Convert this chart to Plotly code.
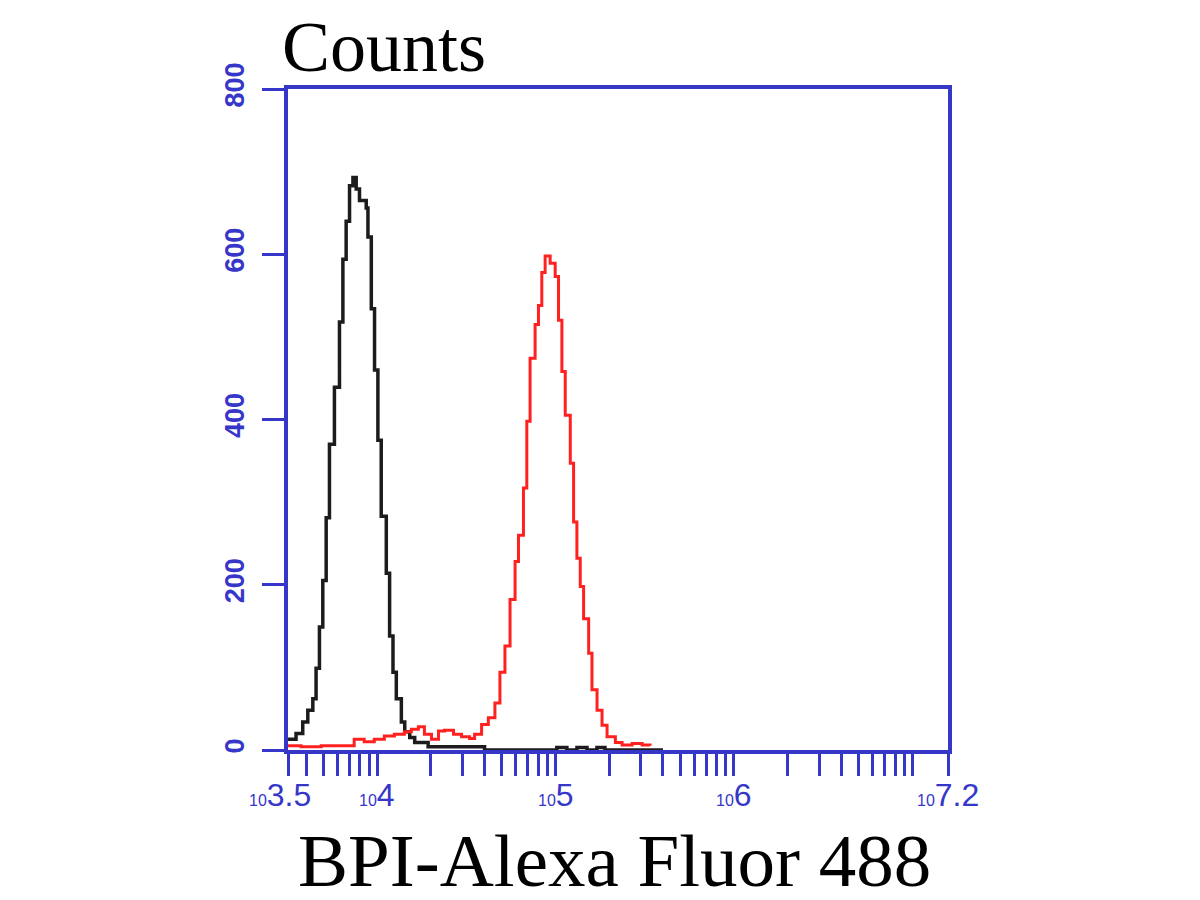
import plotly.graph_objects as go

# ---- data (fluorescence intensity, counts) ----
black_x = [3150, 3508, 3825, 4083, 4357, 4543, 4745, 4955, 5176, 5400, 5758, 6146,
           6423, 6700, 6998, 7312, 7627, 7957, 8681, 8876, 9268, 9664, 10092, 10535,
           11246, 11737, 12262, 12800, 13660, 14270, 15220, 16230, 19300, 40000,
           101600, 115700, 131800, 150000, 170600, 189200, 400000]
black_y = [13, 20, 34, 48, 62, 99, 149, 205, 281, 370, 439, 518,
           594, 640, 683, 693, 679, 665, 656, 621, 534, 460, 375, 283,
           214, 138, 94, 62, 34, 22, 15, 9, 4, 0,
           3, 0, 3, 0, 3, 0, 0]

red_x = [3162, 3741, 4853, 6281, 7430, 8457, 9632, 10970, 12480, 14200, 15550, 17020,
         18400, 20150, 22070, 23840, 26790, 29720, 32960, 35170, 38480, 41980, 45710,
         48760, 52030, 55570, 59290, 61950, 66070, 68990, 71970, 76790, 80200, 83720,
         87400, 93260, 99500, 103900, 108500, 113300, 120900, 126200, 131700, 137500,
         143600, 153300, 160000, 170800, 182200, 194400, 216400, 236000, 268700,
         305800, 338800]
red_y = [5, 4, 5, 5, 13, 10, 13, 17, 19, 22, 25, 28,
         19, 13, 23, 24, 19, 16, 14, 19, 31, 39, 57,
         94, 126, 182, 228, 260, 317, 398, 474, 515, 538, 578,
         598, 589, 573, 520, 458, 405, 347, 276, 232, 198,
         159, 117, 73, 48, 30, 16, 9, 6, 8,
         6, 5]

y_tick_vals = [0, 200, 400, 600, 800]
y_tick_text = ["0", "200", "400", "600", "800"]

x_label_exps = [3.5, 4, 5, 6, 7.2]
x_label_text = ["3.5", "4", "5", "6", "7.2"]

BLUE = "#3636c8"

# log ticks (2..9 and decades) inside the range, plus the range ends
x_lo, x_hi = 10 ** 3.5, 10 ** 7.2
x_tick_vals = sorted({x_lo, x_hi} | {m * 10 ** e for e in (3, 4, 5, 6) for m in range(1, 10)
                                     if x_lo < m * 10 ** e < x_hi} | {1e7})

fig = go.Figure()
fig.add_trace(go.Scatter(x=black_x, y=black_y, mode="lines", line_shape="hv",
                         line=dict(color="#1c1c1c", width=3.5), showlegend=False))
fig.add_trace(go.Scatter(x=red_x, y=red_y, mode="lines", line_shape="hv",
                         line=dict(color="#ff2020", width=3), showlegend=False))

annotations = [
    dict(text="Counts", xref="paper", yref="paper", x=0, y=1, xshift=-8, yshift=42,
         xanchor="left", yanchor="middle", showarrow=False,
         font=dict(family="Liberation Serif", size=72, color="black")),
    dict(text="BPI-Alexa Fluor 488", xref="paper", yref="paper", x=0.494, y=0, yshift=-110,
         xanchor="center", yanchor="middle", showarrow=False,
         font=dict(family="Liberation Serif", size=75, color="black")),
]
for e, t in zip(x_label_exps, x_label_text):
    annotations.append(dict(
        text="<span style='font-size:16px'>10</span>" + t,
        xref="x", yref="paper", x=e, y=0, yshift=-45, xshift=(-8 if e == 3.5 else 0),
        xanchor="center", yanchor="middle", showarrow=False,
        font=dict(family="Liberation Sans", size=32, color=BLUE)))

fig.update_layout(
    width=1200, height=900,
    margin=dict(l=280, r=260, t=81, b=158),
    paper_bgcolor="white", plot_bgcolor="white",
    xaxis=dict(type="log", range=[3.5, 7.2], showgrid=False, zeroline=False,
               showline=True, linecolor=BLUE, linewidth=4, mirror=True,
               ticks="outside", ticklen=22, tickwidth=3, tickcolor=BLUE,
               tickmode="array", tickvals=x_tick_vals, showticklabels=False),
    yaxis=dict(range=[0, 800], showgrid=False, zeroline=False,
               showline=True, linecolor=BLUE, linewidth=4, mirror=True,
               ticks="outside", ticklen=22, tickwidth=3, tickcolor=BLUE,
               tickmode="array", tickvals=y_tick_vals,
               ticktext=["<b>" + t + "</b>" for t in y_tick_text],
               tickangle=-90,
               tickfont=dict(family="Liberation Sans", size=27, color=BLUE),
               ticklabelstandoff=7),
    annotations=annotations,
)

fig.write_html("out.html")
